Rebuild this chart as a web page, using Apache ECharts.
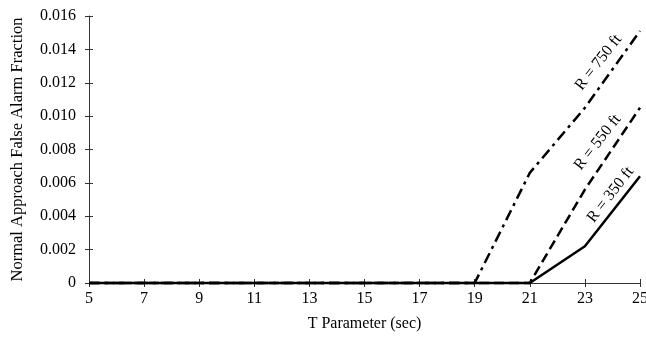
<!DOCTYPE html>
<html>
<head>
<meta charset="utf-8">
<script src="https://cdn.jsdelivr.net/npm/echarts@6/dist/echarts.min.js"></script>
<style>
  html, body { margin: 0; padding: 0; background: #fff; }
  #chart { width: 646px; height: 339px; }
</style>
</head>
<body>
<div id="chart"></div>
<script>
// T parameter (sec) categories
var tParam = ['5', '7', '9', '11', '13', '15', '17', '19', '21', '23', '25']
// false alarm fraction per range
var r350 = [0, 0, 0, 0, 0, 0, 0, 0, 0, 0.0022, 0.0064]
var r550 = [0, 0, 0, 0, 0, 0, 0, 0, 0, 0.0056, 0.0105]
var r750 = [0, 0, 0, 0, 0, 0, 0, 0, 0.0066, 0.0105, 0.0151]
var seriesNames = ['R = 350 ft', 'R = 550 ft', 'R = 750 ft']
var yTicks = { min: 0, max: 0.016, interval: 0.002 }

var font = 'Liberation Serif, Times New Roman, serif'
var chart = echarts.init(document.getElementById('chart'))

// text along a line, anchored at a category + value, shifted in rotated frame
function lineLabel(name, x, y, offset) {
  return {
    symbolSize: 0,
    silent: true,
    data: [{
      coord: [x, y],
      label: {
        show: true,
        position: 'inside',
        formatter: name,
        rotate: 52,
        offset: offset,
        color: '#000',
        fontSize: 16,
        fontFamily: font
      }
    }]
  }
}

chart.setOption({
  animation: false,
  grid: {
    left: 89,
    right: 6,
    top: 16,
    bottom: 56,
    outerBoundsMode: 'none'
  },
  xAxis: [
    {
      type: 'category',
      data: tParam,
      boundaryGap: false,
      name: 'T Parameter (sec)',
      nameLocation: 'middle',
      nameGap: 33,
      nameTextStyle: { color: '#000', fontSize: 16, fontFamily: font },
      axisLine: { lineStyle: { color: '#333', width: 1 } },
      axisTick: { length: 4, lineStyle: { color: '#333' } },
      axisLabel: { color: '#000', fontSize: 16, fontFamily: font, margin: 8 },
      splitLine: { show: false }
    },
    {
      type: 'category',
      data: tParam,
      boundaryGap: false,
      position: 'bottom',
      axisLine: { show: false },
      axisTick: { inside: true, length: 4, lineStyle: { color: '#333' } },
      axisLabel: { show: false },
      splitLine: { show: false }
    }
  ],
  yAxis: [
    {
      type: 'value',
      min: yTicks.min,
      max: yTicks.max,
      interval: yTicks.interval,
      name: 'Normal Approach False Alarm Fraction',
      nameLocation: 'middle',
      nameGap: 63,
      nameTextStyle: { color: '#000', fontSize: 16.5, fontFamily: font },
      axisLine: { show: true, lineStyle: { color: '#333', width: 1 } },
      axisTick: { show: true, length: 4, lineStyle: { color: '#333' } },
      axisLabel: {
        color: '#000',
        fontSize: 16,
        fontFamily: font,
        margin: 13,
        formatter: function (v) {
          return v === 0 ? '0' : v.toFixed(3)
        }
      },
      splitLine: { show: false }
    },
    {
      type: 'value',
      min: yTicks.min,
      max: yTicks.max,
      interval: yTicks.interval,
      position: 'left',
      axisLine: { show: false },
      axisTick: { show: true, inside: true, length: 4, lineStyle: { color: '#333' } },
      axisLabel: { show: false },
      splitLine: { show: false }
    }
  ],
  series: [
    {
      name: seriesNames[2],
      type: 'line',
      data: r750,
      z: 2,
      showSymbol: false,
      clip: false,
      lineStyle: { color: '#000', width: 2.5, type: [11, 5, 3, 5] },
      markPoint: lineLabel(seriesNames[2], '23', 0.01324, [8, 11])
    },
    {
      name: seriesNames[1],
      type: 'line',
      data: r550,
      z: 3,
      showSymbol: false,
      clip: false,
      lineStyle: { color: '#000', width: 2.5, type: [10, 5] },
      markPoint: lineLabel(seriesNames[1], '23', 0.00842, [8, 10])
    },
    {
      name: seriesNames[0],
      type: 'line',
      data: r350,
      z: 5,
      showSymbol: false,
      clip: false,
      lineStyle: { color: '#000', width: 2.5, type: 'solid' },
      markPoint: lineLabel(seriesNames[0], '23', 0.00527, [16, 20])
    }
  ]
})
</script>
</body>
</html>
